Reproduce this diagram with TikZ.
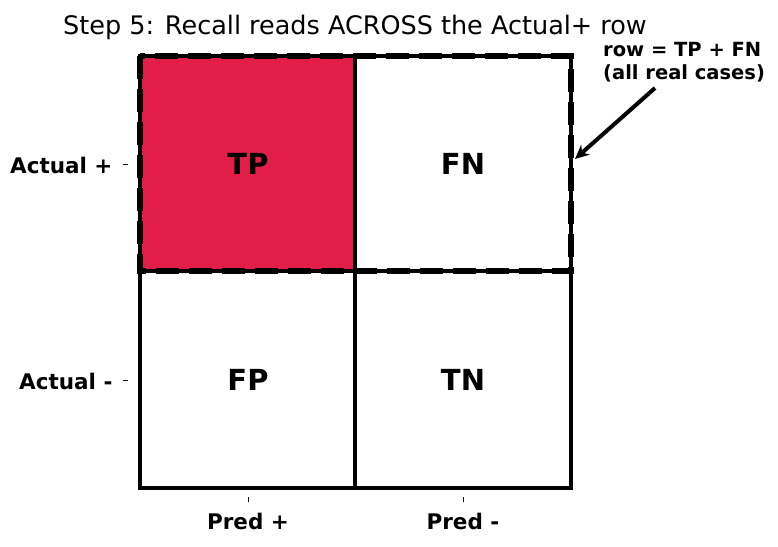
\documentclass[tikz,border=0pt]{standalone}
\usepackage{fontspec}
\setmainfont{DejaVu Sans}
\usetikzlibrary{arrows.meta}
\definecolor{tpred}{RGB}{226,29,72}
\begin{document}
\begin{tikzpicture}[x=1pt,y=-1pt,
  gridline/.style={line width=4pt},
  rowbox/.style={line width=6.5pt, dash pattern=on 23pt off 10pt},
  celllabel/.style={font=\fontsize{29}{33}\selectfont\bfseries},
  axlabel/.style={font=\fontsize{21.5}{23}\selectfont\bfseries},
  notelabel/.style={font=\fontsize{19.5}{23}\selectfont\bfseries},
  tickmark/.style={line width=0.9pt}]
\useasboundingbox (0,0) rectangle (778,546);
% title
\node[font=\fontsize{25.5}{29}\selectfont] (title) at (355,27) {Step 5: Recall reads ACROSS the Actual+ row};
% cells
\fill[tpred] (140,56) rectangle (355,271);
\coordinate (tl) at (140,56);
\coordinate (br) at (571,488);
\draw[gridline] (tl) rectangle (br);
\draw[gridline] (355,56) -- (355,488);
\draw[gridline] (140,271) -- (571,271);
\draw[rowbox] (140,56) rectangle (571,271);
\node[celllabel] (tp) at (248,164) {TP};
\node[celllabel] (fn) at (463,164) {FN};
\node[celllabel] (fp) at (248,380) {FP};
\node[celllabel] (tn) at (463,380) {TN};
% ticks
\draw[tickmark] (123,164) -- (128,164);
\draw[tickmark] (123,380) -- (128,380);
\draw[tickmark] (248,497) -- (248,502);
\draw[tickmark] (463,497) -- (463,502);
\node[axlabel, anchor=east] (ap) at (116,165) {Actual +};
\node[axlabel, anchor=east] (am) at (116,381) {Actual -};
\node[axlabel] (pp) at (248,521) {Pred +};
\node[axlabel] (pm) at (463,521) {Pred -};
% annotation
\node[notelabel, anchor=base west, align=left, inner sep=0pt] (note) at (603,79) {row = TP + FN\\(all real cases)};
\coordinate (arrstart) at (655,88);
\coordinate (arrend) at (575,159);
\draw[line width=4pt, -{Stealth[length=14pt,width=13pt]}] (arrstart) -- (arrend);
\end{tikzpicture}
\end{document}
